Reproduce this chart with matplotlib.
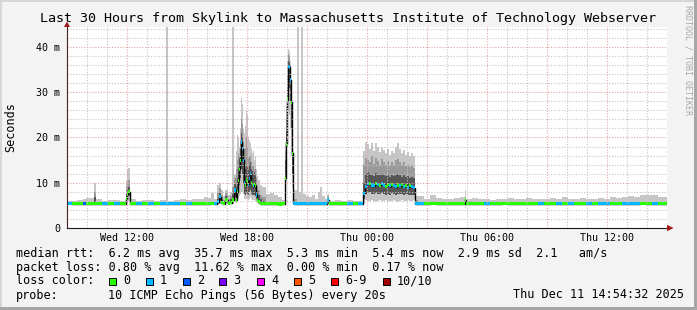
import numpy as np
import matplotlib
matplotlib.use("Agg")
import matplotlib.pyplot as plt
from matplotlib.patches import Rectangle, Polygon

# sample start times, minutes after Wed 09:00 (30 h window)
t_min = [0, 15, 30, 48, 57, 72, 81, 87, 105, 123, 141, 159, 177, 180, 183, 189, 207, 225, 243, 261,
         279, 297, 303, 321, 339, 357, 375, 393, 411, 423,
         432, 441, 450, 456, 462, 468, 474, 483, 489, 495, 501, 507, 510, 513, 516, 519, 522, 525, 528, 531,
         534, 537, 540, 543, 546, 549, 552, 555, 558, 561, 564, 567, 570, 573, 579, 585, 597, 609, 621, 633, 645,
         654, 657, 660, 663, 666, 669, 672, 675, 678, 681,
         690, 696, 702, 708, 717, 726, 735, 744, 753, 759, 765, 774, 780, 786, 804, 822, 840, 858, 873, 888,
         894, 900, 906, 912, 918, 924, 930, 936, 942, 948, 954, 960, 966, 972, 978, 984, 990, 996, 1002, 1008,
         1014, 1020, 1026, 1032, 1038, 1044,
         1053, 1071, 1089, 1107, 1125, 1143, 1161, 1179, 1194, 1197, 1215, 1233, 1251, 1269, 1287, 1305, 1323,
         1341, 1359, 1377, 1395, 1413, 1431, 1449, 1467, 1485, 1503, 1521, 1539, 1557, 1575, 1593, 1611, 1629,
         1647, 1665, 1683, 1701, 1719, 1737, 1755, 1773, 1791]

# median rtt (ms)
median_ms = [5.5, 5.4, 5.4, 5.4, 5.4, 5.4, 5.4, 5.4, 5.4, 5.4, 5.4, 5.4, 6.5, 7.5, 8.0, 5.4, 5.4, 5.4, 5.4, 5.4,
             5.4, 5.4, 5.4, 5.4, 5.4, 5.4, 5.4, 5.4, 5.4, 5.4,
             5.5, 5.4, 5.8, 6.9, 5.6, 5.4, 6.2, 5.5, 5.6, 6.2, 8.4, 6.2, 8.0, 10.5, 13.0, 15.0, 19.0, 17.5, 15.0, 10.0,
             9.5, 10.6, 10.3, 9.7, 11.0, 12.0, 10.0, 9.6, 9.3, 9.8, 9.3, 7.3, 6.2, 5.8, 5.4, 5.4, 5.4, 5.4, 5.4, 5.3, 5.4,
             11.0, 18.5, 28.3, 35.7, 35.5, 32.7, 27.8, 16.5, 5.5, 5.4,
             5.4, 5.4, 5.4, 5.4, 5.4, 5.4, 5.4, 5.4, 5.4, 5.4, 5.4, 5.4, 6.2, 5.4, 5.4, 5.4, 5.4, 5.4, 5.4, 7.7,
             9.2, 9.8, 9.9, 9.5, 9.3, 9.8, 9.6, 9.4, 9.9, 9.5, 9.2, 9.6, 9.3, 9.7, 9.4, 9.1, 9.5, 9.3, 9.6, 9.2,
             9.4, 9.0, 9.3, 9.1, 8.9, 5.4,
             5.4, 5.4, 5.5, 5.4, 5.4, 5.4, 5.4, 5.4, 6.2, 5.4, 5.4, 5.4, 5.4, 5.4, 5.4, 5.5, 5.4,
             5.4, 5.4, 5.4, 5.4, 5.4, 5.4, 5.4, 5.4, 5.4, 5.4, 5.4, 5.4, 5.4, 5.4, 5.4, 5.4, 5.4,
             5.4, 5.4, 5.4, 5.4, 5.5, 5.4, 5.4, 5.4, 5.4]

# slowest ping (ms); 50 = off the top of the graph
max_ms = [6.0, 5.9, 6.2, 6.4, 6.6, 6.7, 9.9, 6.3, 6.0, 6.2, 6.1, 6.0, 10.5, 13.0, 13.2, 6.5, 6.0, 6.2, 6.1, 6.0,
          6.2, 50, 6.0, 6.2, 6.3, 6.1, 6.4, 6.5, 6.8, 6.6,
          7.7, 6.5, 9.5, 10.0, 8.5, 7.0, 8.4, 7.2, 8.0, 50, 11.7, 17, 20.5, 20, 18, 22, 28.7, 27.5, 22, 21,
          22.5, 26, 25, 20, 19.4, 18.8, 17.5, 16.5, 17, 15, 16, 13, 11.5, 10.6, 9.5, 9.0, 7.5, 7.7, 7.2, 6.8, 6.2,
          19, 27, 37, 39.5, 39, 37, 32, 24, 14, 8.5,
          50, 8.0, 50, 7.5, 7.0, 6.8, 7.2, 6.5, 8.0, 9.0, 7.0, 6.3, 7.5, 6.0, 6.2, 5.9, 6.1, 6.0, 6.0, 17,
          19, 18.5, 17.5, 18.8, 17, 18.7, 17.8, 16.8, 18, 17.2, 16.5, 17.5, 16.2, 17, 16.5, 17.8, 18.7, 17.5, 16.5, 17.3,
          16.2, 16.8, 15.8, 16.5, 15.8, 7.0,
          7.0, 6.4, 7.3, 6.6, 6.5, 6.3, 6.6, 6.8, 8.4, 6.5, 6.6, 6.3, 6.5, 6.2, 6.5, 6.3, 6.6,
          6.3, 6.4, 6.7, 6.3, 6.5, 6.3, 6.6, 6.4, 6.8, 6.4, 6.3, 6.6, 6.4, 6.5, 6.6, 6.4,
          6.8, 6.7, 6.9, 7.0, 6.8, 7.2, 7.3, 7.2, 6.9, 6.8]

# lost pings per sample (of 10)
loss = [1, 0, 0, 2, 0, 0, 0, 0, 1, 0, 1, 0, 0, 0, 0, 0, 1, 0, 1, 0,
        1, 1, 1, 1, 0, 1, 0, 0, 0, 0,
        0, 1, 1, 1, 0, 0, 0, 0, 0, 0, 1, 0, 0, 0, 0, 0, 1, 1, 1, 1,
        0, 0, 0, 1, 1, 1, 0, 0, 1, 0, 0, 1, 0, 0, 0, 0, 0, 0, 0, 0, 0,
        0, 0, 0, 1, 1, 1, 0, 0, 1, 1,
        1, 1, 1, 1, 1, 1, 1, 1, 1, 1, 1, 1, 1, 0, 0, 0, 1, 0, 1, 1,
        1, 1, 0, 1, 1, 0, 1, 0, 1, 1, 0, 0, 1, 0, 1, 1, 0, 1, 0, 1,
        0, 1, 0, 1, 1, 1,
        1, 0, 0, 0, 0, 0, 0, 0, 0, 0, 0, 0, 1, 0, 0, 0, 0,
        0, 0, 0, 0, 1, 0, 0, 1, 0, 1, 0, 0, 1, 0, 1, 1, 0,
        0, 1, 1, 1, 0, 0, 1, 0, 0]

# inner smoke (ping spread) where the spread is visible
busy_t = [81, 87,
          177, 180, 183, 189,
          450, 456, 462, 468, 474, 483, 489, 495, 501, 507,
          510, 513, 516, 519, 522, 525, 528, 531, 534, 537,
          540, 543, 546, 549, 552, 555, 558, 561, 564, 567,
          570, 573, 579, 585, 597,
          654, 657, 660, 663, 666, 669, 672, 675, 678, 681, 690,
          780, 786,
          888, 894, 900, 906, 912, 918, 924, 930, 936, 942, 948, 954, 960, 966, 972, 978,
          984, 990, 996, 1002, 1008, 1014, 1020, 1026, 1032, 1038, 1044, 1053]
busy_min = [5.2, 5.4,
            5.4, 5.6, 6.0, 5.4,
            5.3, 5.4, 5.3, 5.3, 5.3, 5.3, 5.3, 5.4, 5.8, 5.5,
            5.8, 6.5, 7.0, 7.5, 8.0, 8.0, 7.5, 6.5, 6.3, 6.5,
            6.4, 6.2, 6.5, 6.8, 6.3, 6.2, 6.1, 6.2, 6.0, 5.8,
            5.6, 5.4, 5.2, 5.2, 5.4,
            5.5, 10, 18, 26, 25, 22, 16, 9, 5.2, 5.2, 5.4,
            5.3, 5.4,
            5.6, 6.2, 6.0, 5.9, 6.1, 6.0, 5.8, 6.0, 6.1, 5.9, 6.0, 6.2, 5.9, 6.0, 5.9, 6.1,
            6.0, 5.8, 6.0, 6.1, 5.9, 6.0, 6.1, 5.9, 6.0, 6.2, 5.2, 5.4]
busy_lo = [5.3, 5.4,
           5.8, 6.5, 7.0, 5.4,
           5.4, 6.0, 5.4, 5.4, 5.6, 5.4, 5.4, 5.8, 6.8, 5.8,
           6.5, 8.0, 9.5, 11.0, 13.0, 12.0, 10.0, 7.5, 7.2, 7.8,
           7.5, 7.2, 8.0, 8.5, 7.5, 7.3, 7.2, 7.4, 7.0, 6.4,
           5.9, 5.6, 5.3, 5.3, 5.4,
           7.0, 14, 24, 32, 31, 28, 22, 12, 5.4, 5.3, 5.4,
           5.6, 5.4,
           6.3, 7.5, 7.8, 7.9, 7.6, 7.5, 7.8, 7.6, 7.5, 7.8, 7.6, 7.4, 7.6, 7.4, 7.7, 7.5,
           7.4, 7.6, 7.5, 7.6, 7.4, 7.5, 7.3, 7.4, 7.3, 7.2, 5.3, 5.4]
busy_hi = [6.8, 5.4,
           7.5, 8.5, 9.0, 5.4,
           6.5, 7.8, 6.5, 5.8, 7.0, 6.0, 6.5, 7.5, 9.8, 9.0,
           11.0, 13.0, 15.5, 17.5, 21.0, 20.0, 17.5, 13.5, 13.0, 13.8,
           13.5, 12.8, 14.0, 14.5, 13.0, 12.5, 12.0, 12.3, 11.8, 9.5,
           8.2, 7.2, 6.3, 6.0, 5.4,
           15, 21.5, 31, 37, 36.5, 34.5, 29.5, 19, 7.0, 5.8, 5.4,
           6.6, 5.4,
           10.0, 12.0, 12.3, 12.0, 11.8, 11.5, 12.2, 11.8, 11.6, 12.0, 11.7, 11.4, 11.8, 11.3, 11.7, 11.5,
           11.8, 12.0, 11.6, 11.3, 11.7, 11.2, 11.4, 11.0, 11.3, 11.0, 5.8, 5.4]
busy_mid = [8.0, 5.4,
            9.0, 10.2, 10.5, 5.4,
            8.0, 8.8, 7.2, 6.2, 7.8, 6.5, 7.0, 9.0, 11.0, 13.0,
            15.0, 16.5, 16.0, 19.5, 24.0, 23.0, 19.0, 17.5, 18.0, 20.0,
            18.0, 15.5, 16.0, 16.0, 14.5, 13.8, 14.0, 13.0, 13.0, 11.0,
            9.5, 8.5, 7.2, 6.8, 5.4,
            17, 24, 34, 38.5, 38, 36, 31, 22, 10, 6.5, 5.4,
            7.0, 5.4,
            14.0, 15.5, 15.0, 14.5, 15.8, 14.2, 15.5, 14.8, 14.0, 15.2, 14.5, 14.0, 14.8, 13.8, 14.5, 14.0,
            15.0, 15.3, 14.6, 14.0, 14.5, 13.6, 14.0, 13.5, 14.0, 13.2, 6.2, 5.4]

x_ticks = [0, 180, 360, 540, 720, 900, 1080, 1260, 1440, 1620, 1800]
x_labels = ["", "Wed 12:00", "", "Wed 18:00", "", "Thu 00:00", "", "Thu 06:00", "", "Thu 12:00", ""]
y_ticks = [0, 10, 20, 30, 40]
y_labels = ["0", "10 m", "20 m", "30 m", "40 m"]

loss_names = ["0", "1", "2", "3", "4", "5", "6-9", "10/10"]
loss_colors = ["#26ff00", "#00b8ff", "#0059ff", "#7e00ff", "#ff00ff", "#ff5500", "#ff0000", "#a10000"]

plt.rcParams["font.family"] = "DejaVu Sans Mono"

W, H = 697, 310
BG = "#f3f3f3"


def fx(px):
    return px / W


def fy(py):
    return 1 - py / H


fig = plt.figure(figsize=(W / 100, H / 100), dpi=100, facecolor=BG)
ax = fig.add_axes([fx(67), fy(228), fx(667) - fx(67), fy(27) - fy(228)])
ax.set_facecolor("white")

t = np.array(t_min + [1800], float)
med = np.array(median_ms + [median_ms[-1]])
mx = np.array(max_ms + [max_ms[-1]])

# smoke
ax.fill_between(t, med, mx, step="post", color="#c6c6c6", lw=0, zorder=1)
bt = np.array(busy_t, float)
ax.fill_between(bt, busy_min, busy_mid, step="post", color="#c6c6c6", lw=0, zorder=1.1)
ax.fill_between(bt, busy_lo, busy_mid, step="post", color="#9a9a9a", lw=0, zorder=1.2)
ax.fill_between(bt, busy_lo, busy_hi, step="post", color="#565656", lw=0, zorder=1.3)

# median line + loss colour
ax.step(t, med, where="post", color="black", lw=1.0, zorder=1.5)
ax.bar(t[:-1], 0.7, bottom=med[:-1] - 0.35, width=np.diff(t), align="edge",
       color=[loss_colors[k] for k in loss], lw=0, antialiased=False, zorder=1.8)

ax.set_xlim(0, 1800)
ax.set_ylim(0, 44.4)

# grid drawn on top like rrdtool
for m in range(60, 1800, 60):
    c = "#e8a4a4" if m % 180 == 0 else "#c4c4c4"
    ax.axvline(m, color=c, lw=0.8, ls=(0, (1, 1.5)), zorder=3)
for v in range(2, 45, 2):
    c = "#e8a4a4" if v % 10 == 0 else "#c4c4c4"
    ax.axhline(v, color=c, lw=0.8, ls=(0, (1, 1.5)), zorder=3)

ax.set_xticks(x_ticks)
ax.set_xticklabels(x_labels)
ax.set_yticks(y_ticks)
ax.set_yticklabels(y_labels)
ax.tick_params(axis="both", length=0, labelsize=7.2)
ax.tick_params(axis="y", pad=5)
ax.tick_params(axis="x", pad=3.5)
for s in ["top", "right"]:
    ax.spines[s].set_visible(False)
ax.spines["left"].set_color("#4a2020")
ax.spines["bottom"].set_color("#1a1a1a")
ax.spines["left"].set_zorder(4)
ax.spines["bottom"].set_zorder(4)

# axis arrows
arrow_c = "#a01818"
fig.add_artist(Polygon([[fx(67), fy(21.5)], [fx(64), fy(27)], [fx(70), fy(27)]],
                       closed=True, color=arrow_c, transform=fig.transFigure, lw=0))
fig.add_artist(Polygon([[fx(673.5), fy(228)], [fx(667), fy(224.8)], [fx(667), fy(231.2)]],
                       closed=True, color=arrow_c, transform=fig.transFigure, lw=0))

# texts
fig.text(fx(347.5), fy(18.5), "Last 30 Hours from Skylink to Massachusetts Institute of Technology Webserver",
         ha="center", va="center", fontsize=9.6)
fig.text(fx(11), fy(127.5), "Seconds", rotation=90, ha="center", va="center", fontsize=8.5)
fig.text(fx(688), fy(5), "RRDTOOL / TOBI OETIKER", rotation=270, ha="center", va="top",
         fontsize=6, color="#a8a8a8")

fs = 8.5
fig.text(fx(15.6), fy(253), "median rtt:  6.2 ms avg  35.7 ms max  5.3 ms min  5.4 ms now  2.9 ms sd  2.1   am/s",
         ha="left", va="center", fontsize=fs)
fig.text(fx(15.6), fy(267), "packet loss: 0.80 % avg  11.62 % max  0.00 % min  0.17 % now",
         ha="left", va="center", fontsize=fs)
fig.text(fx(15.6), fy(281), "loss color:", ha="left", va="center", fontsize=fs)
box_x = [109, 146, 183, 219, 257, 294, 331, 383]
for bx, name, col in zip(box_x, loss_names, loss_colors):
    fig.add_artist(Rectangle((fx(bx), fy(281 + 3.5)), 7 / W, 7 / H, transform=fig.transFigure,
                             facecolor=col, edgecolor="black", lw=0.7))
    fig.text(fx(bx + 14), fy(281), name, ha="left", va="center", fontsize=fs)
fig.text(fx(15.6), fy(295), "probe:", ha="left", va="center", fontsize=fs)
fig.text(fx(108), fy(295), "10 ICMP Echo Pings (56 Bytes) every 20s", ha="left", va="center", fontsize=fs)
fig.text(fx(684), fy(295), "Thu Dec 11 14:54:32 2025", ha="right", va="center", fontsize=fs)

# 3d frame
fig.add_artist(Rectangle((0, fy(2)), 1, 2 / H, transform=fig.transFigure, color="#d6d6d6", lw=0))
fig.add_artist(Rectangle((0, 0), 2 / W, 1, transform=fig.transFigure, color="#d6d6d6", lw=0))
fig.add_artist(Rectangle((0, 0), 1, 3 / H, transform=fig.transFigure, color="#a6a6a6", lw=0))
fig.add_artist(Rectangle((fx(694), 0), 3 / W, 1, transform=fig.transFigure, color="#a6a6a6", lw=0))

fig.savefig("out.png", dpi=100, facecolor=BG)
